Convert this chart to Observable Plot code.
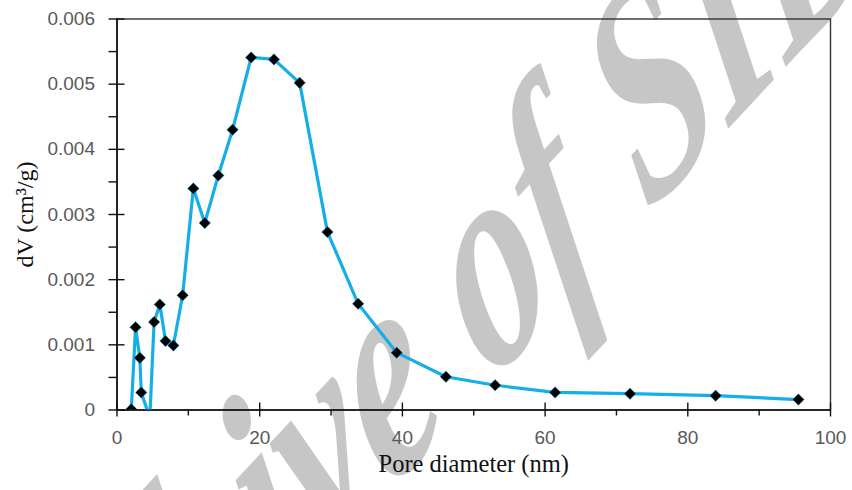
<!DOCTYPE html>
<html>
<head>
<meta charset="utf-8">
<script src="https://cdn.jsdelivr.net/npm/d3@7"></script>
<script src="https://cdn.jsdelivr.net/npm/@observablehq/plot@0.6"></script>
<style>
  html, body { margin: 0; padding: 0; background: #ffffff; }
  #wrap { position: relative; width: 852px; height: 490px; overflow: hidden; }
  #wm { position: absolute; left: 0; top: 0; z-index: 0; }
  #chart { position: absolute; left: 0; top: 0; z-index: 1; }
</style>
</head>
<body>
<div id="wrap">
  <svg id="wm" width="852" height="490"></svg>
  <div id="chart"></div>
</div>
<script>
// Pore diameter (nm)
const poreDiameter = [2.0, 2.6, 3.2, 3.4, 4.6, 5.2, 6.0, 6.8, 7.9, 9.2, 10.7, 12.3, 14.2, 16.2, 18.8, 22.0, 25.6, 29.5, 33.8, 39.2, 46.1, 53.0, 61.4, 71.9, 83.9, 95.5];
// dV (cm3/g)
const dV = [0.00001, 0.00127, 0.00080, 0.00027, -0.00012, 0.00135, 0.00162, 0.00106, 0.00099, 0.00176, 0.00340, 0.00287, 0.00360, 0.00430, 0.00541, 0.00538, 0.00502, 0.00273, 0.00163, 0.00088, 0.00051, 0.00038, 0.00027, 0.00025, 0.00022, 0.00016];

const xTicks = [0, 20, 40, 60, 80, 100];
const xTickLabels = ["0", "20", "40", "60", "80", "100"];
const xMinorTicks = [10, 30, 50, 70, 90];
const yTicks = [0, 0.001, 0.002, 0.003, 0.004, 0.005, 0.006];
const yTickLabels = ["0", "0.001", "0.002", "0.003", "0.004", "0.005", "0.006"];
const yMinorTicks = [0.0005, 0.0015, 0.0025, 0.0035, 0.0045, 0.0055];

const xTitle = "Pore diameter (nm)";
const yTitle = "dV (cm³/g)";
const watermark = "Archive of SID";

const data = poreDiameter.map((x, i) => ({x, y: dV[i]}));

const W = 852, H = 490;
const mL = 116.5, mR = 22, mT = 18.5, mB = 80.5;
const pw = W - mL - mR, ph = H - mT - mB;

const chart = Plot.plot({
  width: W,
  height: H,
  marginLeft: mL,
  marginRight: mR,
  marginTop: mT,
  marginBottom: mB,
  style: {background: "transparent", color: "#595959", fontFamily: "Liberation Sans, Arial, sans-serif", fontSize: "19px"},
  x: {domain: [0, 100]},
  y: {domain: [0, 0.006]},
  marks: [
    Plot.frame({stroke: "#333333", strokeWidth: 1.4}),
    // axis tick labels
    Plot.axisX({ticks: xTicks, tickSize: 0, tickPadding: 20, label: null,
      tickFormat: d => xTickLabels[xTicks.indexOf(d)], fill: "#595959"}),
    Plot.axisY({ticks: yTicks, tickSize: 0, tickPadding: 22, label: null,
      tickFormat: d => yTickLabels[yTicks.indexOf(d)], fill: "#595959"}),
    // major ticks (crossing)
    Plot.tickX(xTicks, {x: d => d, stroke: "#111", strokeWidth: 1.4, insetTop: ph - 7, insetBottom: -7}),
    Plot.tickY(yTicks, {y: d => d, stroke: "#111", strokeWidth: 1.4, insetLeft: -8, insetRight: pw - 8}),
    // minor ticks (outside)
    Plot.tickX(xMinorTicks, {x: d => d, stroke: "#111", strokeWidth: 1.4, insetTop: ph, insetBottom: -6}),
    Plot.tickY(yMinorTicks, {y: d => d, stroke: "#111", strokeWidth: 1.4, insetLeft: -8, insetRight: pw}),
    // axis lines
    Plot.ruleY([0], {stroke: "#111", strokeWidth: 1.6}),
    Plot.ruleX([0], {stroke: "#111", strokeWidth: 1.6}),
    // data
    Plot.line(data, {x: "x", y: "y", stroke: "#14aee8", strokeWidth: 3.2, clip: true}),
    Plot.dot(data, {x: "x", y: "y", symbol: "diamond2", r: 5.2, fill: "#000", stroke: "#14aee8", strokeWidth: 0.8, strokeOpacity: 0.6, clip: true}),
    // titles
    Plot.text([xTitle], {text: d => d, frameAnchor: "bottom", dy: 62, fontFamily: "Liberation Serif, Times New Roman, serif", fontSize: 24.5, fill: "#111"}),
    Plot.text([yTitle], {text: d => d, frameAnchor: "left", textAnchor: "middle", dx: -92, rotate: -90, fontFamily: "Liberation Serif, Times New Roman, serif", fontSize: 24, fill: "#111"})
  ]
});
document.getElementById("chart").appendChild(chart);

// watermark (background decoration)
const wm = d3.select("#wm");
const g = wm.append("g").attr("transform", "translate(498,286) rotate(-47) skewX(-22) scale(1,1.22)");
g.append("text")
  .attr("x", -800)
  .attr("y", 50)
  .attr("font-family", "Liberation Serif, Times New Roman, serif")
  .attr("font-style", "italic")
  .attr("font-weight", "bold")
  .attr("font-size", 215)
  .attr("fill", "#c6c6c6")
  .text(watermark);
</script>
</body>
</html>
